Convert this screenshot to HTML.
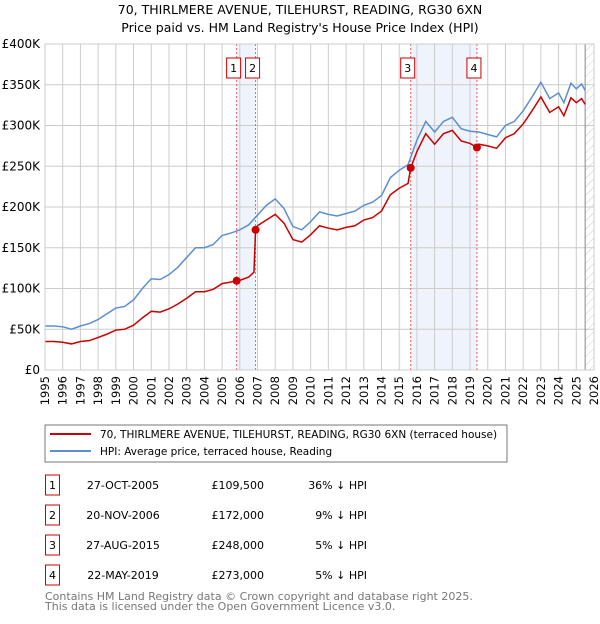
<!DOCTYPE html>
<html><head><meta charset="utf-8"><style>
body{margin:0;background:#fff;font-family:"DejaVu Sans","Liberation Sans",sans-serif;}
svg text{font-family:"DejaVu Sans","Liberation Sans",sans-serif;}
</style></head><body>
<svg id="c" width="600" height="620" xmlns="http://www.w3.org/2000/svg">
<defs><pattern id="hatch" width="6" height="6" patternUnits="userSpaceOnUse" patternTransform="rotate(45)"><line x1="0" y1="0" x2="0" y2="6" stroke="#ccc" stroke-width="1"/></pattern></defs>
<text x="300" y="14" text-anchor="middle" font-size="12.5" fill="#000">70, THIRLMERE AVENUE, TILEHURST, READING, RG30 6XN</text>
<text x="300" y="32" text-anchor="middle" font-size="12.5" fill="#000">Price paid vs. HM Land Registry's House Price Index (HPI)</text>
<g id="plot"></g>
<rect x="45" y="425" width="462" height="37" fill="#fff" stroke="#777"/>
<line x1="50" y1="434" x2="91" y2="434" stroke="#cc0000" stroke-width="2"/>
<text x="100" y="438" font-size="10.5">70, THIRLMERE AVENUE, TILEHURST, READING, RG30 6XN (terraced house)</text>
<line x1="50" y1="451" x2="91" y2="451" stroke="#5b8fd0" stroke-width="2"/>
<text x="100" y="455" font-size="10.5">HPI: Average price, terraced house, Reading</text>
<g id="table"></g>
<text x="45" y="600" font-size="11" fill="#777">Contains HM Land Registry data © Crown copyright and database right 2025.</text>
<text x="45" y="610" font-size="11" fill="#777">This data is licensed under the Open Government Licence v3.0.</text>
</svg>
<script>
const hpiDates=[1995.0,1995.5,1996.0,1996.5,1997.0,1997.5,1998.0,1998.5,1999.0,1999.5,2000.0,2000.5,2001.0,2001.5,2002.0,2002.5,2003.0,2003.5,2004.0,2004.5,2005.0,2005.5,2006.0,2006.5,2007.0,2007.5,2008.0,2008.5,2009.0,2009.5,2010.0,2010.5,2011.0,2011.5,2012.0,2012.5,2013.0,2013.5,2014.0,2014.5,2015.0,2015.5,2016.0,2016.5,2017.0,2017.5,2018.0,2018.5,2019.0,2019.5,2020.0,2020.5,2021.0,2021.5,2022.0,2022.5,2023.0,2023.5,2024.0,2024.3,2024.7,2025.0,2025.3,2025.5];
const hpiValues=[54,54,53,50,54,57,62,69,76,78,86,100,112,111,117,126,138,150,150,154,165,168,172,178,190,202,210,198,176,172,182,194,191,189,192,195,202,206,214,236,245,252,282,305,292,305,310,296,293,292,289,286,300,305,318,335,353,333,340,328,352,345,351,343];
const priceDates=[1995.0,1995.5,1996.0,1996.5,1997.0,1997.5,1998.0,1998.5,1999.0,1999.5,2000.0,2000.5,2001.0,2001.5,2002.0,2002.5,2003.0,2003.5,2004.0,2004.5,2005.0,2005.5,2005.82,2006.0,2006.5,2006.8,2006.89,2007.0,2007.5,2008.0,2008.5,2009.0,2009.5,2010.0,2010.5,2011.0,2011.5,2012.0,2012.5,2013.0,2013.5,2014.0,2014.5,2015.0,2015.5,2015.65,2016.0,2016.5,2017.0,2017.5,2018.0,2018.5,2019.0,2019.39,2019.5,2020.0,2020.5,2021.0,2021.5,2022.0,2022.5,2023.0,2023.5,2024.0,2024.3,2024.7,2025.0,2025.3,2025.5];
const priceValues=[35,35,34,32,35,36,40,44,49,50,55,64,72,71,75,81,88,96,96,99,106,108,109.5,110,114,120,172,177,184,191,180,160,157,166,177,174,172,175,177,184,187,195,215,223,229,248,268,290,277,290,294,281,278,273,277,275,272,285,290,302,318,335,316,323,312,334,328,333,326];
const saleDates=[2005.82,2006.89,2015.65,2019.39];
const saleLabels=["1","2","3","4"];
const saleValues=[109.5,172,248,273];
const yTicks=[0,50,100,150,200,250,300,350,400];
const yTickLabels=["£0","£50K","£100K","£150K","£200K","£250K","£300K","£350K","£400K"];
const xTicks=[1995,1996,1997,1998,1999,2000,2001,2002,2003,2004,2005,2006,2007,2008,2009,2010,2011,2012,2013,2014,2015,2016,2017,2018,2019,2020,2021,2022,2023,2024,2025,2026];
const tDates=["27-OCT-2005","20-NOV-2006","27-AUG-2015","22-MAY-2019"];
const tPrices=["£109,500","£172,000","£248,000","£273,000"];
const tPcts=["36% ↓ HPI","9% ↓ HPI","5% ↓ HPI","5% ↓ HPI"];
const X0=45,X1=594,Y0=370,Y1=44;
const sx=d=>X0+(d-1995)/(2026-1995)*(X1-X0);
const sy=v=>Y0-v/400*(Y0-Y1);
const NS="http://www.w3.org/2000/svg";
const g=document.getElementById('plot');
function mk(t,a,p){const e=document.createElementNS(NS,t);for(const k in a)e.setAttribute(k,a[k]);(p||g).appendChild(e);return e;}
let e;
e=mk('rect',{x:X0,y:Y1,width:X1-X0,height:Y0-Y1,fill:'#fff'});


[[0,1],[2,3]].forEach(p=>{e=mk('rect',{x:sx(saleDates[p[0]]),y:Y1,width:sx(saleDates[p[1]])-sx(saleDates[p[0]]),height:Y0-Y1,fill:'#eef3fc'});

});
e=mk('rect',{x:sx(2025.5),y:Y1,width:X1-sx(2025.5),height:Y0-Y1,fill:'url(#hatch)'});


xTicks.forEach(t=>{e=mk('line',{x1:sx(t),x2:sx(t),y1:Y1,y2:Y0,stroke:'#ccc'});


e=mk('text',{x:sx(t)+4,y:Y0+6,'font-size':'11.5',transform:`rotate(-90 ${sx(t)+4} ${Y0+6})`,'text-anchor':'end'});
e.textContent=t;

});
yTicks.forEach((t,i)=>{e=mk('line',{x1:X0,x2:X1,y1:sy(t),y2:sy(t),stroke:'#ccc'});


e=mk('text',{x:X0-5,y:sy(t)+4,'font-size':'12','text-anchor':'end'});
e.textContent=yTickLabels[i];

});
e=mk('line',{x1:sx(2025.5),x2:sx(2025.5),y1:Y1,y2:Y0,stroke:'#888'});


saleDates.forEach((d,i)=>{e=mk('line',{x1:sx(d),x2:sx(d),y1:Y1,y2:Y0,stroke:'#e06060','stroke-dasharray':'2,2'});

});
e=mk('polyline',{points:hpiDates.map((d,i)=>sx(d)+','+sy(hpiValues[i])).join(' '),fill:'none',stroke:'#5b8fd0','stroke-width':1.5});


e=mk('polyline',{points:priceDates.map((d,i)=>sx(d)+','+sy(priceValues[i])).join(' '),fill:'none',stroke:'#cc0000','stroke-width':1.5});


saleDates.forEach((d,i)=>{e=mk('circle',{cx:sx(d),cy:sy(saleValues[i]),r:4,fill:'#cc0000'});


e=mk('rect',{x:sx(d)-10,y:58,width:14,height:20,fill:'#fff',stroke:'#cc0000'});


e=mk('text',{x:sx(d)-3,y:72,'font-size':'11','text-anchor':'middle'});
e.textContent=saleLabels[i];

});
e=mk('rect',{x:X0,y:Y1,width:X1-X0,height:Y0-Y1,fill:'none',stroke:'#ccc'});


const tb=document.getElementById('table');
saleLabels.forEach((l,i)=>{const y=475+i*30;
e=mk('rect',{x:45.5,y:y,width:14,height:20,fill:'#fff',stroke:'#cc0000'},tb);


e=mk('text',{x:52.5,y:y+14,'font-size':'11','text-anchor':'middle'},tb);e.textContent=l;


e=mk('text',{x:123,y:y+14,'font-size':'11','text-anchor':'middle'},tb);e.textContent=tDates[i];


e=mk('text',{x:264,y:y+14,'font-size':'11','text-anchor':'end'},tb);e.textContent=tPrices[i];


e=mk('text',{x:367,y:y+14,'font-size':'11','text-anchor':'end'},tb);e.textContent=tPcts[i];

});
</script>
</body></html>
